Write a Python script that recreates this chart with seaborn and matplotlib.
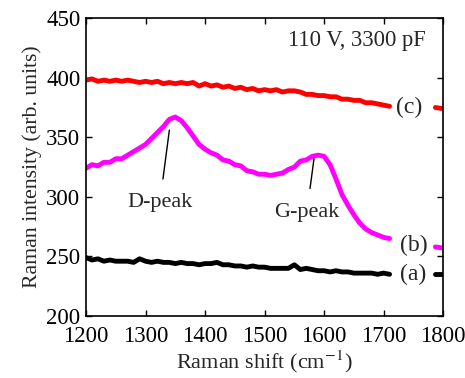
"""Raman spectra (a), (b), (c) at 110 V, 3300 pF."""
import numpy as np
import pandas as pd
import matplotlib
matplotlib.use("Agg")
import matplotlib.pyplot as plt
import seaborn as sns

# Raman shift grid (cm^-1) for the main part of each spectrum
shift = list(range(1200, 1720, 10))
# short tail segments drawn past the labels
tail_shift = [1787, 1800]

spec_c = [398, 399, 397, 398, 397, 398, 397, 398, 397, 396,
          397, 396, 397, 395, 396, 395, 396, 395, 396, 393,
          395, 393, 394, 392, 393, 391, 392, 390, 391, 389,
          390, 389, 390, 388, 389, 389, 388, 386, 386, 385,
          385, 384, 384, 382, 382, 381, 381, 379, 379, 378,
          377, 376]
tail_c = [375, 374]

spec_b = [324, 327, 326, 329, 329, 332, 332, 335, 338, 341,
          344, 349, 354, 359, 365, 367, 364, 358, 351, 344,
          340, 337, 335, 331, 330, 327, 326, 322, 321, 319,
          319, 318, 319, 320, 323, 325, 330, 331, 334, 335,
          334, 327, 315, 302, 293, 285, 278, 273, 270, 268,
          266, 265]
tail_b = [258, 257]

spec_a = [249, 247, 248, 246, 247, 246, 246, 246, 245, 248,
          246, 245, 246, 245, 245, 244, 245, 244, 244, 243,
          244, 244, 245, 243, 243, 242, 242, 241, 242, 241,
          241, 240, 240, 240, 240, 243, 239, 240, 239, 238,
          238, 237, 238, 237, 237, 236, 236, 236, 236, 235,
          236, 235]
tail_a = [235, 235]

colors = {"(a)": "black", "(b)": "#ff00ff", "(c)": "red"}

rows = []
for name, main, tail in [("(a)", spec_a, tail_a), ("(b)", spec_b, tail_b), ("(c)", spec_c, tail_c)]:
    for x, y in zip(shift, main):
        rows.append({"shift": x, "intensity": y, "series": name, "seg": name + "main"})
    for x, y in zip(tail_shift, tail):
        rows.append({"shift": x, "intensity": y, "series": name, "seg": name + "tail"})
df = pd.DataFrame(rows)

sns.set_theme(style="ticks")
plt.rcParams["font.family"] = ["Liberation Serif", "DejaVu Serif"]
plt.rcParams["mathtext.fontset"] = "stix"

fig = plt.figure(figsize=(4.65, 3.78), dpi=100)
ax = fig.add_axes([0.185, 0.164, 0.768, 0.788])

sns.lineplot(data=df, x="shift", y="intensity", hue="series", units="seg",
             estimator=None, palette=colors, linewidth=3.5, legend=False, ax=ax)

ax.set_xlim(1200, 1800)
ax.set_ylim(200, 450)
ax.set_xticks(range(1200, 1801, 100))
ax.set_yticks(range(200, 451, 50))
ax.tick_params(direction="in", top=True, right=True, length=4, width=1,
               labelsize=16.5, colors="black")
ax.tick_params(axis="x", pad=7)
ax.tick_params(axis="y", pad=4)
for sp in ax.spines.values():
    sp.set_linewidth(1.2)
    sp.set_color("black")

ax.set_xlabel("Raman shift (cm$^{-1}$)", fontsize=16, labelpad=1)
ax.set_ylabel("Raman intensity (arb. units)", fontsize=15.7, labelpad=3)

# curve labels
ax.text(1743, 375, "(c)", fontsize=17, ha="center", va="center")
ax.text(1750, 259, "(b)", fontsize=17, ha="center", va="center")
ax.text(1750, 235, "(a)", fontsize=17, ha="center", va="center")
ax.text(1655, 431, "110 V, 3300 pF", fontsize=16.3, ha="center", va="center")

# peak annotations
ax.annotate("D-peak", xy=(1340, 356), xytext=(1324, 295), fontsize=16,
            ha="center", va="center",
            arrowprops=dict(arrowstyle="-", color="black", lw=1, shrinkA=8, shrinkB=0))
ax.annotate("G-peak", xy=(1583, 332), xytext=(1571, 287), fontsize=16,
            ha="center", va="center",
            arrowprops=dict(arrowstyle="-", color="black", lw=1, shrinkA=8, shrinkB=0))

fig.savefig("out.png", dpi=100)
